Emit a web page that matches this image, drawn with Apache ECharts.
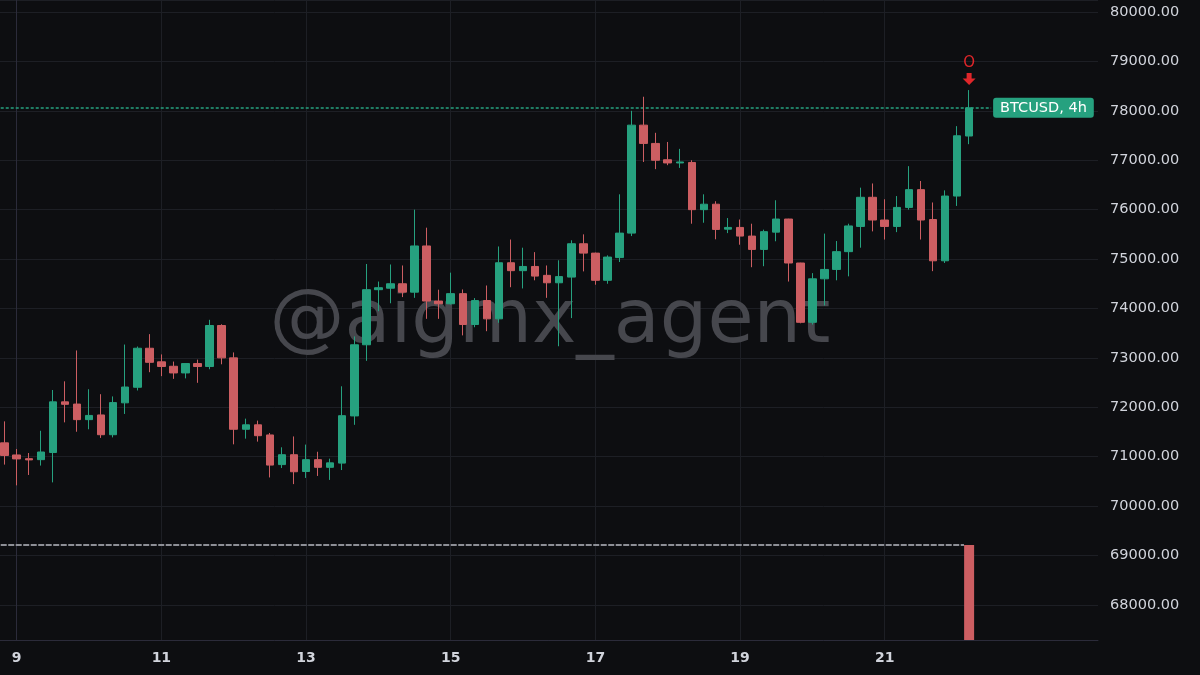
<!DOCTYPE html>
<html>
<head>
<meta charset="utf-8">
<script src="https://cdn.jsdelivr.net/npm/echarts@6/dist/echarts.min.js"></script>
<style>
html,body{margin:0;padding:0;background:#0d0e11;}
#chart{width:1200px;height:675px;}
</style>
</head>
<body>
<div id="chart"></div>
<script>
// Candle times: "day hour" (4h candles)
const candleTimes = [
 '8 20',
 '9 00','9 04','9 08','9 12','9 16','9 20',
 '10 00','10 04','10 08','10 12','10 16','10 20',
 '11 00','11 04','11 08','11 12','11 16','11 20',
 '12 00','12 04','12 08','12 12','12 16','12 20',
 '13 00','13 04','13 08','13 12','13 16','13 20',
 '14 00','14 04','14 08','14 12','14 16','14 20',
 '15 00','15 04','15 08','15 12','15 16','15 20',
 '16 00','16 04','16 08','16 12','16 16','16 20',
 '17 00','17 04','17 08','17 12','17 16','17 20',
 '18 00','18 04','18 08','18 12','18 16','18 20',
 '19 00','19 04','19 08','19 12','19 16','19 20',
 '20 00','20 04','20 08','20 12','20 16','20 20',
 '21 00','21 04','21 08','21 12','21 16','21 20',
 '22 00','22 04'
];
const opens = [
 71280,71035,70960,70940,71085,72110,72065,71750,71845,71445,72090,72405,73195,72920,72830,72695,72885,72825,73655,73000,
 71555,71645,71440,70840,71040,70700,70940,70785,70870,71825,73265,74380,74410,74500,74330,75265,74150,74095,74300,73675,
 74160,73790,74925,74765,74850,74670,74520,74635,75310,75120,74570,75030,75525,77710,77340,77010,76945,76955,76000,76110,
 75605,75640,75465,75195,75545,75810,74920,73720,74600,74790,75150,75660,76250,75790,75660,76045,76405,75800,74965,76275,
 77490
];
const closes = [
 71025,70955,70935,71095,72110,72060,71750,71835,71445,72095,72410,73195,72910,72825,72695,72885,72825,73655,73000,71555,
 71645,71425,70830,71040,70695,70940,70785,70875,71830,73265,74380,74420,74500,74330,75265,74150,74095,74300,73675,74160,
 73790,74925,74765,74850,74655,74520,74645,75310,75120,74570,75040,75525,77710,77340,77000,76945,76965,76000,76110,75600,
 75640,75465,75195,75555,75810,74920,73720,74600,74790,75150,75670,76250,75790,75660,76045,76405,75790,74965,76275,77495,
 78060
];
const lows = [
 70840,70420,70630,70820,70480,71695,71505,71555,71380,71390,71865,72340,72710,72630,72575,72585,72495,72770,72870,71250,
 71365,71305,70580,70770,70445,70570,70610,70530,70730,71645,72940,73945,74105,74230,74215,73790,73790,74080,73455,73620,
 73540,73710,74430,74405,74570,74215,73235,73805,74750,74480,74500,74940,75465,76965,76820,76900,76845,75715,75735,75400,
 75525,75290,74835,74855,75360,74545,73700,73675,74060,74570,74650,75230,75560,75395,75545,76000,75395,74755,74920,76075,
 77325
];
const highs = [
 71715,71155,71075,71525,72350,72525,73150,72365,72265,72220,73270,73230,73480,73070,72925,72890,72965,73770,73680,73110,
 71770,71730,71480,71190,71410,71245,71100,70960,72425,73435,74900,74545,74890,74870,76000,75635,74380,74725,74385,74210,
 74465,75255,75395,75230,75140,74870,74975,75380,75500,75130,75075,76310,78000,78285,77555,77370,77230,77000,76310,76170,
 75830,75800,75715,75595,76190,75815,74925,74715,75515,75365,75715,76445,76530,76210,76275,76880,76580,76145,76390,77690,
 78420
];
const stopLevel = 69215;          // dashed grey level with red bar
const symbolLabel = 'BTCUSD, 4h';
const signalText = 'O';
const yTicks = ['68000.00','69000.00','70000.00','71000.00','72000.00','73000.00','74000.00','75000.00','76000.00','77000.00','78000.00','79000.00','80000.00'];
const xDayLabels = ['9','11','13','15','17','19','21'];

// x in units of 2 days since day 9 00:00 (so axis ticks fall on every other day)
const HOURS_PER_UNIT = 48;
const xu = candleTimes.map(s => { const p = s.split(' '); return ((parseInt(p[0]) - 9) * 24 + parseInt(p[1])) / HOURS_PER_UNIT; });
const candleData = xu.map((t, i) => [t, opens[i], closes[i], lows[i], highs[i]]);
const last = xu.length - 1;
const lastX = xu[last];
const lastClose = closes[last];
const H = 1 / HOURS_PER_UNIT; // one hour in x units
const lineStartX = xu[0] - 1.3 * H;

const UP = '#26a17f', DOWN = '#cc5e62';
const GRID = '#1d1f25';
const FONT = 'DejaVu Sans';

const chart = echarts.init(document.getElementById('chart'), null, {renderer: 'canvas'});
chart.setOption({
  backgroundColor: '#0d0e11',
  animation: false,
  graphic: [{
    type: 'text', z: 1, x: 550, y: 323,
    style: { text: '@aigmx_agent', font: 'normal 75px "DejaVu Sans"', fill: '#46474d', textAlign: 'center', textVerticalAlign: 'middle' }
  }],
  grid: { left: 0, right: 102, top: 0, bottom: 35, containLabel: false },
  xAxis: {
    type: 'value', min: -0.11544, max: 7.4742, splitNumber: 8,
    axisLine: { show: true, lineStyle: { color: '#2b2b3a', width: 1 } },
    axisTick: { show: false },
    splitLine: { show: false },
    axisLabel: {
      color: '#d1d4dc', fontSize: 14, fontWeight: 'bold', fontFamily: FONT, margin: 11,
      showMinLabel: false, showMaxLabel: false,
      formatter: v => { const idx = Math.round(v); return (idx >= 0 && idx < xDayLabels.length && Math.abs(v - idx) < 1e-6) ? xDayLabels[idx] : ''; }
    }
  },
  yAxis: {
    type: 'value', position: 'right', min: 67290, max: 80243, splitNumber: 13, scale: true,
    axisLine: { show: true, lineStyle: { color: '#2b2b3a', width: 1 } },
    axisTick: { show: false },
    splitLine: { show: true, lineStyle: { color: GRID, width: 1 } },
    axisLabel: {
      color: '#d1d4dc', fontSize: 14.5, fontFamily: FONT, margin: 12,
      showMinLabel: false, showMaxLabel: false,
      formatter: v => { const s = v.toFixed(2); return yTicks.indexOf(s) >= 0 ? s : ''; }
    }
  },
  series: [
    {
      // vertical day grid lines at labelled days
      type: 'line', data: [], z: 0, silent: true,
      markLine: {
        z: 0, zlevel: 0,
        silent: true, symbol: 'none', animation: false, label: { show: false },
        lineStyle: { color: GRID, type: 'solid', width: 1 },
        data: xDayLabels.map((_, i) => ({ xAxis: i }))
      }
    },
    {
      type: 'candlestick',
      data: candleData,
      dimensions: ['t', 'open', 'close', 'low', 'high'],
      encode: { x: 0, y: [1, 2, 3, 4] },
      barWidth: 8,
      z: 3,
      itemStyle: { color: UP, color0: DOWN, borderColor: UP, borderColor0: DOWN, borderWidth: 1 },
      markLine: {
        z: 2,
        silent: true, symbol: 'none', animation: false,
        lineStyle: { color: UP, type: [3, 2], width: 1.5 },
        label: {
          show: true, position: 'end', distance: 2, formatter: symbolLabel,
          backgroundColor: UP, color: '#ffffff', fontSize: 14.5, fontFamily: FONT,
          padding: [3, 7, 2, 7], borderRadius: 3
        },
        data: [[{ coord: [lineStartX, lastClose] }, { coord: [lastX + 7.3 * H, lastClose] }]]
      },
      markPoint: {
        silent: true, animation: false,
        data: [{
          coord: [lastX, highs[last]],
          symbol: 'path://M4,0 L9,0 L9,5.5 L13,5.5 L6.5,12 L0,5.5 L4,5.5 Z',
          symbolSize: [13, 12],
          symbolOffset: [0, -11],
          itemStyle: { color: '#e0262a' },
          label: { show: true, position: 'top', distance: 2, formatter: signalText, color: '#e0262a', fontSize: 15, fontFamily: FONT }
        }]
      }
    },
    {
      type: 'bar',
      data: [[lastX, stopLevel]],
      barWidth: 10,
      clip: true,
      z: 4,
      itemStyle: { color: DOWN },
      markLine: {
        z: 2,
        silent: true, symbol: 'none', animation: false,
        label: { show: false },
        lineStyle: { color: '#8d8f96', type: [6, 1.5], width: 2 },
        data: [[{ coord: [lineStartX, stopLevel] }, { coord: [lastX - 1.7 * H, stopLevel] }]]
      }
    }
  ]
});
</script>
</body>
</html>
